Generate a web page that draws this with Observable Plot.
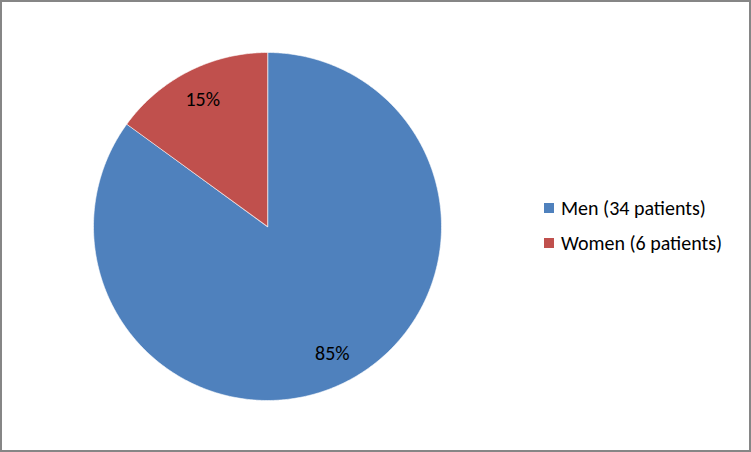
<!DOCTYPE html>
<html>
<head>
<meta charset="utf-8">
<script src="https://cdn.jsdelivr.net/npm/d3@7"></script>
<script src="https://cdn.jsdelivr.net/npm/@observablehq/plot@0.6"></script>
<style>
  html, body { margin: 0; padding: 0; background: #fff; }
  #wrap { position: relative; width: 751px; height: 452px; }
  #frame { position: absolute; left: 0; top: 0; width: 747px; height: 448px; border: 2px solid #868686; pointer-events: none; }
  #legend { position: absolute; left: 544px; top: 195px; font-family: Carlito, Lato, sans-serif; font-size: 20px; color: #000; }
  .item { display: flex; align-items: center; height: 26px; margin-bottom: 9px; white-space: nowrap; }
  .sw { width: 10px; height: 10px; margin-right: 7px; }
</style>
</head>
<body>
<div id="wrap"><div id="chart"></div><div id="legend"></div><div id="frame"></div></div>
<script>
const categories = ["Men (34 patients)", "Women (6 patients)"];
const patients = [34, 6];
const percentLabels = ["85%", "15%"];
const colors = ["#4F81BD", "#C0504D"];

const pie = d3.pie().sort(null).value(d => d)(patients);
const outline = [];
const labels = [];
pie.forEach((p, i) => {
  const steps = Math.max(2, Math.ceil((p.endAngle - p.startAngle) / (Math.PI / 360)));
  outline.push({cat: categories[i], x: 0, y: 0});
  for (let k = 0; k <= steps; k++) {
    const a = p.startAngle + (p.endAngle - p.startAngle) * k / steps;
    outline.push({cat: categories[i], x: Math.sin(a), y: Math.cos(a)});
  }
  const m = (p.startAngle + p.endAngle) / 2;
  labels.push({text: percentLabels[i], x: 0.82 * Math.sin(m), y: 0.82 * Math.cos(m)});
});

const chart = Plot.plot({
  width: 751,
  height: 452,
  marginLeft: 93,
  marginRight: 310,
  marginTop: 52,
  marginBottom: 52,
  x: {domain: [-1, 1], axis: null},
  y: {domain: [-1, 1], axis: null},
  color: {domain: categories, range: colors},
  style: {fontFamily: "Carlito, Lato, sans-serif", background: "#fff"},
  marks: [
    Plot.line(outline, {x: "x", y: "y", z: "cat", fill: "cat", stroke: "#ffffff", strokeWidth: 1, strokeOpacity: 0.6, curve: "linear-closed"}),
    Plot.text(labels, {x: "x", y: "y", text: "text", fontSize: 20, fill: "#000"})
  ]
});
document.getElementById("chart").appendChild(chart);

const legend = document.getElementById("legend");
categories.forEach((c, i) => {
  const item = document.createElement("div");
  item.className = "item";
  const sw = document.createElement("div");
  sw.className = "sw";
  sw.style.background = colors[i];
  const t = document.createElement("span");
  t.textContent = c;
  item.appendChild(sw);
  item.appendChild(t);
  legend.appendChild(item);
});
</script>
</body>
</html>
